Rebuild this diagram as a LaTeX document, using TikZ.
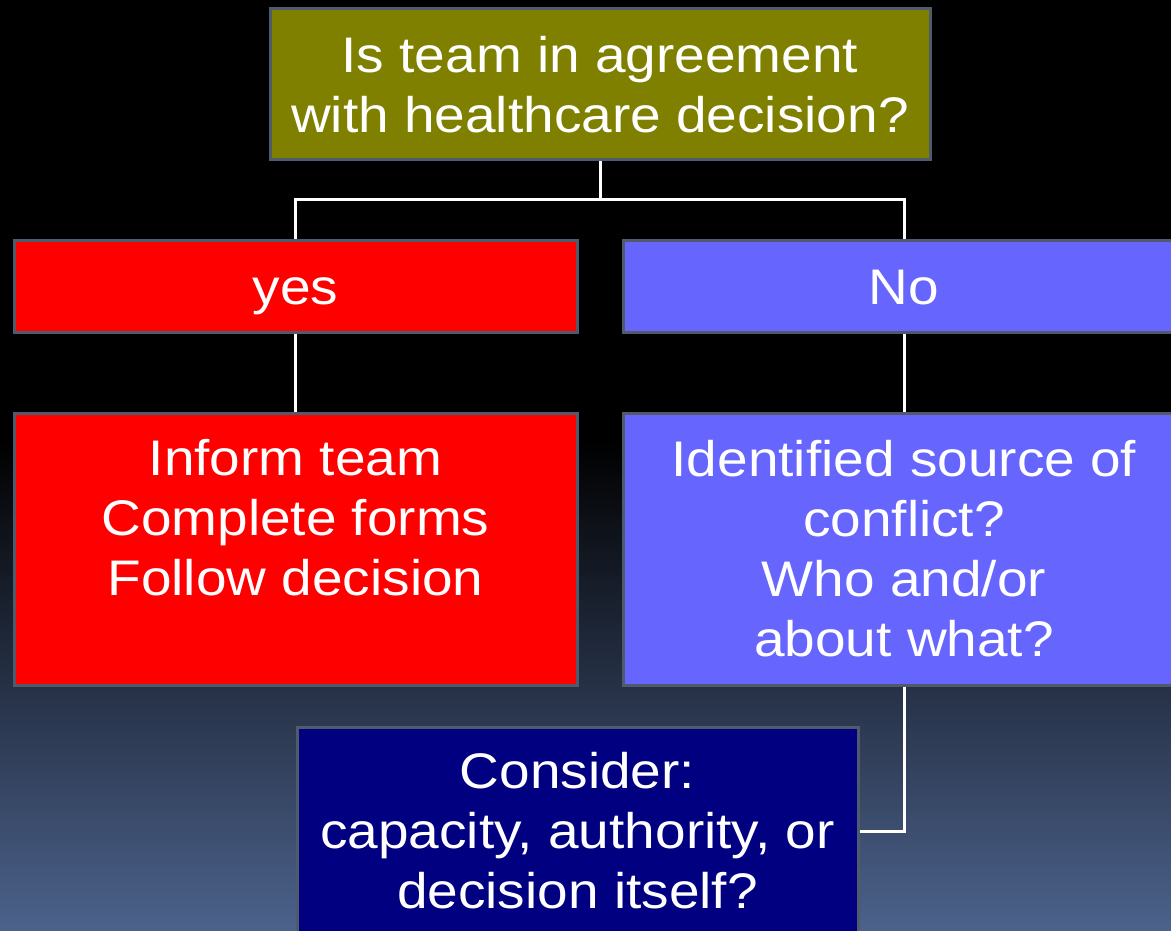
\documentclass[tikz,border=0pt]{standalone}
\usepackage{fontspec}
\setmainfont{Liberation Sans}[FakeStretch=1.1]
\definecolor{bordergray}{RGB}{79,91,107}
\definecolor{olivebox}{RGB}{128,128,0}
\definecolor{redbox}{RGB}{255,0,0}
\definecolor{bluebox}{RGB}{102,102,255}
\definecolor{navybox}{RGB}{0,0,128}
\definecolor{bgbottom}{RGB}{76,98,140}
\begin{document}
\begin{tikzpicture}[x=1pt,y=-1pt,
  box/.style={draw=bordergray, line width=3pt, text=white, align=center,
    inner sep=0pt, font=\fontsize{50}{60}\selectfont},
  onebox/.style={box, text height=36pt, text depth=0pt},
  link/.style={draw=white, line width=3pt}]
\useasboundingbox (0,0) rectangle (1171,931);
\clip (0,0) rectangle (1171,931);
\fill[black] (0,0) rectangle (1171,931);
\shade[top color=black, bottom color=bgbottom] (0,440) rectangle (1171,931);
\node[box, fill=olivebox, minimum width=660pt, minimum height=151pt] (q) at (600,84.5)
  {Is team in agreement\\with healthcare decision?};
\node[onebox, fill=redbox, minimum width=563pt, minimum height=92pt] (yes) at (295.5,286) {yes};
\node[onebox, fill=bluebox, minimum width=562pt, minimum height=92pt] (no) at (904,286) {No};
\node[box, fill=redbox, minimum width=563pt, minimum height=272pt] (inform) at (295.5,549)
  {Inform team\\Complete forms\\Follow decision\\\rule[-4pt]{0pt}{4pt}};
\node[box, fill=bluebox, minimum width=562pt, minimum height=272pt] (ident) at (904,549)
  {Identified source of\\conflict?\\Who and/or\\about what?};
\node[box, fill=navybox, minimum width=561pt, minimum height=208pt] (cons) at (577.5,831)
  {Consider:\\capacity, authority, or\\decision itself?};
\coordinate (split) at (600,200);
\draw[link] (q.south) -- (split);
\draw[link] (yes.north) |- (split) -| (no.north);
\draw[link] (yes.south) -- (inform.north);
\draw[link] (no.south) -- (ident.north);
\draw[link] (ident.south) |- (cons.east);
\end{tikzpicture}
\end{document}
